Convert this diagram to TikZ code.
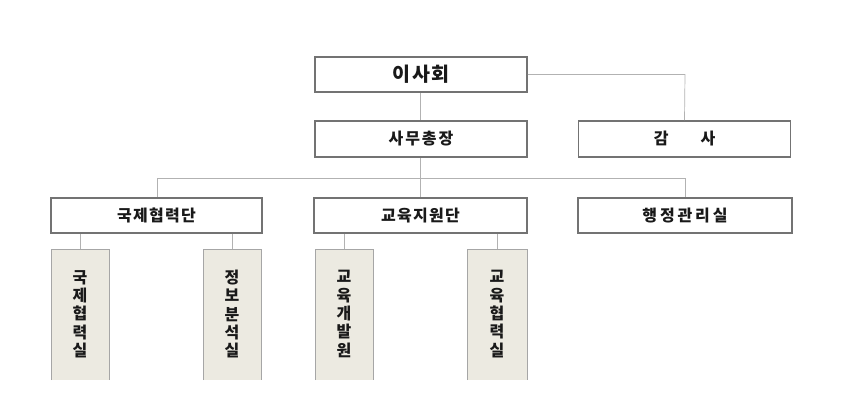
\documentclass[tikz,border=0pt]{standalone}
\usepackage{fontspec}
\newfontfamily\kr{Noto Sans CJK KR}
\begin{document}
\begin{tikzpicture}[x=1pt,y=-1pt,
  bigbox/.style={draw=black!55,line width=1.6pt,fill=white,inner sep=0pt},
  conn/.style={draw=black!30,line width=0.7pt},
  edge/.style={draw=black!35,line width=0.7pt},
  txt/.style={font=\kr\bfseries\fontsize{16}{18}\selectfont,text=black!90}]
\definecolor{boxfill}{HTML}{ECEAE1}
\useasboundingbox (0,0) rectangle (863,407);
% big boxes
\node[bigbox,minimum width=212pt,minimum height=35pt] (board) at (421,74.5) {};
\node[bigbox,minimum width=212pt,minimum height=36pt] (sg) at (421,139) {};
\node[bigbox,minimum width=212pt,minimum height=36pt] (audit) at (684.5,139) {};
\node[bigbox,minimum width=211pt,minimum height=35pt] (icd) at (156.5,215.5) {};
\node[bigbox,minimum width=213pt,minimum height=35pt] (esd) at (420.5,215.5) {};
\node[bigbox,minimum width=214pt,minimum height=35pt] (adm) at (685,215.5) {};
\node[font=\kr\bfseries\fontsize{19.5}{21}\selectfont,text=black!90] at (board) {\addfontfeature{LetterSpace=8}이사회};
\node[txt] at (sg) {\addfontfeature{LetterSpace=12}사무총장};
\node[txt] at (audit) {감\hspace{32pt}사};
\node[txt] at (icd) {\addfontfeature{LetterSpace=8}국제협력단};
\node[txt] at (esd) {\addfontfeature{LetterSpace=8}교육지원단};
\node[txt] at (adm) {\addfontfeature{LetterSpace=18}행정관리실};
% small boxes (open at bottom)
\fill[boxfill] (51,249) rectangle (109,380);
\draw[edge] (51,380) -- (51,249) -- (109,249) -- (109,380);
\fill[boxfill] (203,249) rectangle (261,380);
\draw[edge] (203,380) -- (203,249) -- (261,249) -- (261,380);
\fill[boxfill] (315,249) rectangle (373,380);
\draw[edge] (315,380) -- (315,249) -- (373,249) -- (373,380);
\fill[boxfill] (467,249) rectangle (527,380);
\draw[edge] (467,380) -- (467,249) -- (527,249) -- (527,380);
\coordinate (r1) at (80,249);
\coordinate (r2) at (232,249);
\coordinate (r3) at (344,249);
\coordinate (r4) at (497,249);
\node[txt,align=center,font=\kr\bfseries\fontsize{16}{18.3}\selectfont] (t1) at (80,314) {국\\제\\협\\력\\실};
\node[txt,align=center,font=\kr\bfseries\fontsize{16}{18.3}\selectfont] (t2) at (232,314) {정\\보\\분\\석\\실};
\node[txt,align=center,font=\kr\bfseries\fontsize{16}{18.3}\selectfont] (t3) at (344,314) {교\\육\\개\\발\\원};
\node[txt,align=center,font=\kr\bfseries\fontsize{16}{18.3}\selectfont] (t4) at (497,314) {교\\육\\협\\력\\실};
% connectors
\draw[conn] (board.south -| 420,0) -- (sg.north -| 420,0);
\draw[conn] (board.east) -- (685,74.5) -- (audit.north);
\coordinate (bar) at (420,178);
\draw[conn] (sg.south -| 420,0) -- (bar);
\draw[conn] (157,178) -- (685,178);
\draw[conn] (157,178) -- (icd.north -| 157,0);
\draw[conn] (bar) -- (esd.north -| 420,0);
\draw[conn] (685,178) -- (adm.north);
\draw[conn] (icd.south -| r1) -- (r1);
\draw[conn] (icd.south -| r2) -- (r2);
\draw[conn] (esd.south -| r3) -- (r3);
\draw[conn] (esd.south -| r4) -- (r4);
\end{tikzpicture}
\end{document}
